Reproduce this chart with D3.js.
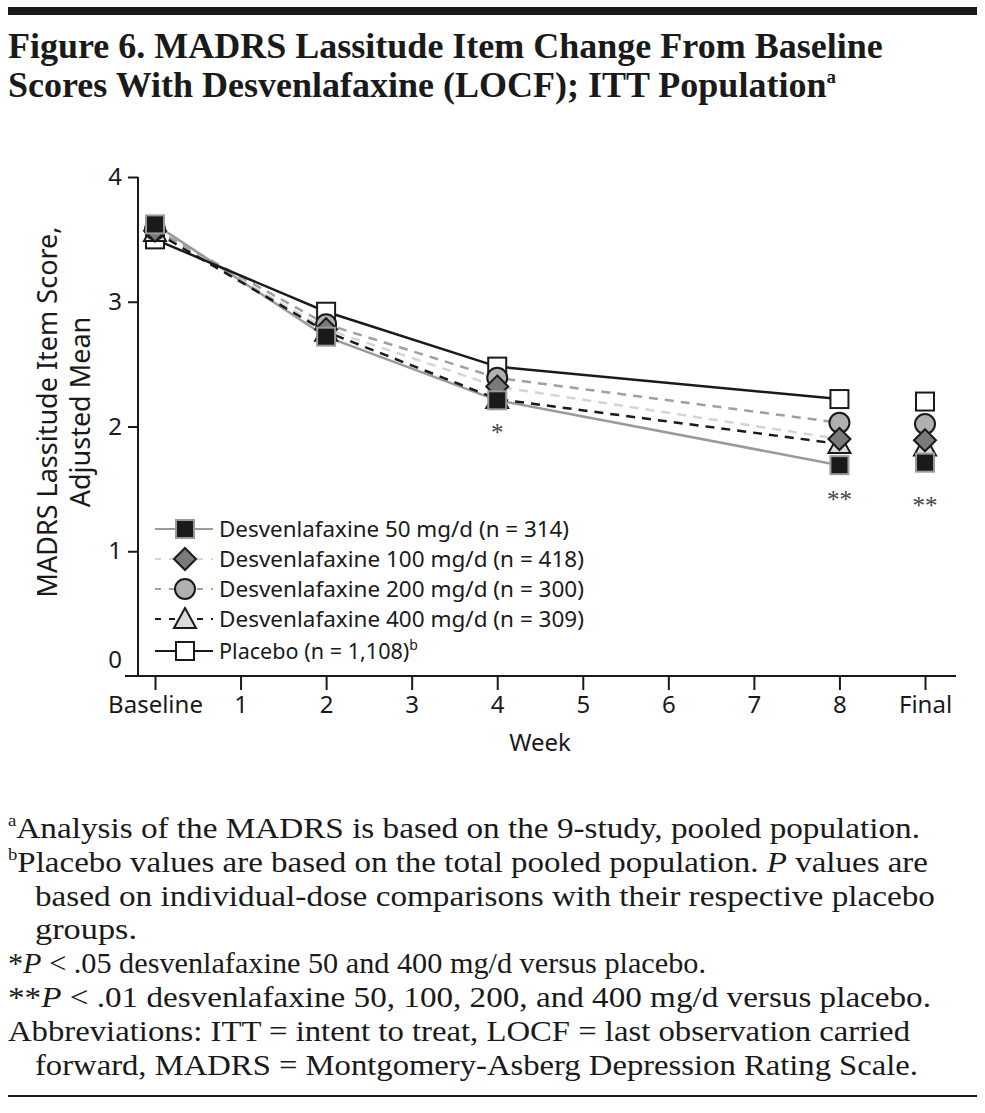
<!DOCTYPE html>
<html>
<head>
<meta charset="utf-8">
<script src="https://cdn.jsdelivr.net/npm/d3@7"></script>
<style>
body { margin: 0; background: #fff; }
svg { display: block; }
.sans { font-family: "Noto Sans", "Open Sans", sans-serif; }
.serif { font-family: "Liberation Serif", "DejaVu Serif", serif; }
</style>
</head>
<body>
<div id="chart"></div>
<script>
// x categories
var weeks = ["Baseline", "1", "2", "3", "4", "5", "6", "7", "8", "Final"];
var pointWeeks = ["Baseline", "2", "4", "8", "Final"];
var lineWeeks = ["Baseline", "2", "4", "8"];
var yTicks = [0, 1, 2, 3, 4];

// adjusted means
var d50 = [3.62, 2.72, 2.21, 1.69, 1.71];
var d100 = [3.57, 2.78, 2.32, 1.90, 1.89];
var d200 = [3.58, 2.82, 2.39, 2.03, 2.02];
var d400 = [3.56, 2.76, 2.22, 1.86, 1.84];
var placebo = [3.50, 2.92, 2.48, 2.22, 2.20];

var seriesNames = [
  "Desvenlafaxine 50 mg/d (n = 314)",
  "Desvenlafaxine 100 mg/d (n = 418)",
  "Desvenlafaxine 200 mg/d (n = 300)",
  "Desvenlafaxine 400 mg/d (n = 309)",
  "Placebo (n = 1,108)"
];

// significance marks
var sigWeeks = ["4", "8", "Final"];
var sigLabels = ["*", "**", "**"];
var sigValues = [1.88, 1.35, 1.30];

var W = 985, H = 1113;
var svg = d3.select("#chart").append("svg")
  .attr("width", W).attr("height", H);

// top bar + title
svg.append("rect").attr("x", 8).attr("y", 7).attr("width", 969).attr("height", 8).attr("fill", "#1a1a1a");
var title = svg.append("text").attr("class", "serif")
  .attr("font-size", 36).attr("font-weight", "bold").attr("fill", "#1a1a1a");
title.append("tspan").attr("x", 8).attr("y", 58).text("Figure 6. MADRS Lassitude Item Change From Baseline");
title.append("tspan").attr("x", 8).attr("y", 97).text("Scores With Desvenlafaxine (LOCF); ITT Population");
title.append("tspan").attr("font-size", 19).attr("dy", -14).text("a");

var x = d3.scalePoint().domain(weeks).range([155, 925]);
var y = d3.scaleLinear().domain([0, 4]).range([676, 177]);

// axes
var yAxis = svg.append("g").attr("class", "sans")
  .attr("transform", "translate(138,0)")
  .call(d3.axisLeft(y).tickValues(yTicks).tickSize(10).tickPadding(6).tickFormat(d3.format("d")));
yAxis.select(".domain").remove();
yAxis.selectAll("text").attr("font-size", 24).attr("fill", "#1a1a1a").attr("font-family", null);
yAxis.selectAll("line").attr("stroke", "#1a1a1a").attr("stroke-width", 2);
yAxis.selectAll(".tick").filter(function(d) { return d === 0; })
  .each(function() {
    d3.select(this).select("line").remove();
    d3.select(this).select("text").attr("y", -16);
  });
svg.append("line").attr("x1", 138).attr("x2", 138).attr("y1", y(4)).attr("y2", y(0))
  .attr("stroke", "#1a1a1a").attr("stroke-width", 2);

var xAxis = svg.append("g").attr("class", "sans")
  .attr("transform", "translate(0," + y(0) + ")")
  .call(d3.axisBottom(x).tickSize(14).tickPadding(6));
xAxis.select(".domain").remove();
xAxis.selectAll("text").attr("font-size", 24).attr("fill", "#1a1a1a").attr("font-family", null);
xAxis.selectAll("line").attr("stroke", "#1a1a1a").attr("stroke-width", 2);
svg.append("line").attr("x1", 125).attr("x2", 956).attr("y1", y(0)).attr("y2", y(0))
  .attr("stroke", "#1a1a1a").attr("stroke-width", 2);

svg.append("text").attr("class", "sans").attr("x", 540).attr("y", 751)
  .attr("text-anchor", "middle").attr("font-size", 24).attr("fill", "#1a1a1a").text("Week");

var yl = svg.append("text").attr("class", "sans").attr("font-size", 27).attr("fill", "#1a1a1a")
  .attr("text-anchor", "middle").attr("transform", "translate(0,412) rotate(-90)");
yl.append("tspan").attr("x", 0).attr("y", 57).text("MADRS Lassitude Item Score,");
yl.append("tspan").attr("x", 0).attr("y", 90).text("Adjusted Mean");

// series styling
var series = [
  { name: seriesNames[0], values: d50, line: "#9a9a9a", dash: null, shape: "square", fill: "#1a1a1a", edge: "#9a9a9a" },
  { name: seriesNames[1], values: d100, line: "#d4d4d4", dash: "9,7", shape: "diamond", fill: "#7a7a7a", edge: "#1a1a1a" },
  { name: seriesNames[2], values: d200, line: "#a0a0a0", dash: "9,7", shape: "circle", fill: "#b0b0b0", edge: "#1a1a1a" },
  { name: seriesNames[3], values: d400, line: "#1a1a1a", dash: "9,7", shape: "triangle", fill: "#dcdcdc", edge: "#1a1a1a" },
  { name: seriesNames[4], values: placebo, line: "#1a1a1a", dash: null, shape: "square", fill: "#ffffff", edge: "#1a1a1a" }
];
var legendLen = [350, 365, 365, 365, 0];
var legendRows = [529, 559, 589, 619, 651];

function marker(g, s, cx, cy) {
  if (s.shape === "square") {
    g.append("rect").attr("x", cx - 9).attr("y", cy - 9).attr("width", 18).attr("height", 18)
      .attr("fill", s.fill).attr("stroke", s.edge).attr("stroke-width", 2);
  } else if (s.shape === "circle") {
    g.append("circle").attr("cx", cx).attr("cy", cy).attr("r", 10)
      .attr("fill", s.fill).attr("stroke", s.edge).attr("stroke-width", 2);
  } else if (s.shape === "diamond") {
    g.append("path").attr("d", "M" + cx + "," + (cy - 11) + "L" + (cx + 11) + "," + cy + "L" + cx + "," + (cy + 11) + "L" + (cx - 11) + "," + cy + "Z")
      .attr("fill", s.fill).attr("stroke", s.edge).attr("stroke-width", 2);
  } else {
    g.append("path").attr("d", "M" + cx + "," + (cy - 11) + "L" + (cx + 11) + "," + (cy + 9) + "L" + (cx - 11) + "," + (cy + 9) + "Z")
      .attr("fill", s.fill).attr("stroke", s.edge).attr("stroke-width", 2);
  }
}

var line = d3.line().x(function(d) { return x(d.w); }).y(function(d) { return y(d.v); });
var lineOrder = [1, 2, 0, 3, 4];
lineOrder.forEach(function(i) {
  var s = series[i];
  var pts = lineWeeks.map(function(w) { return { w: w, v: s.values[pointWeeks.indexOf(w)] }; });
  svg.append("path").attr("d", line(pts)).attr("fill", "none")
    .attr("stroke", s.line).attr("stroke-width", 2.5)
    .attr("stroke-dasharray", s.dash);
});

var markerOrder = [4, 3, 2, 1, 0];
var mg = svg.append("g");
markerOrder.forEach(function(i) {
  var s = series[i];
  pointWeeks.forEach(function(w, j) {
    marker(mg, s, x(w), y(s.values[j]));
  });
});

// significance
svg.selectAll(".sig").data(sigWeeks).enter().append("text")
  .attr("class", "serif").attr("text-anchor", "middle").attr("font-size", 25).attr("fill", "#444")
  .attr("x", function(d) { return x(d); })
  .attr("y", function(d, i) { return y(sigValues[i]); })
  .text(function(d, i) { return sigLabels[i]; });

// legend
var lg = svg.append("g");
series.forEach(function(s, i) {
  var ly = legendRows[i];
  lg.append("line").attr("x1", 155).attr("x2", 213).attr("y1", ly).attr("y2", ly)
    .attr("stroke", s.line).attr("stroke-width", 2).attr("stroke-dasharray", s.dash ? "6,8" : null);
  marker(lg, s, 185, ly);
  var t = lg.append("text").attr("class", "sans").attr("x", 219).attr("y", ly + 8)
    .attr("font-size", 21.6).attr("fill", "#1a1a1a").text(s.name);
  if (legendLen[i]) t.attr("textLength", legendLen[i]).attr("lengthAdjust", "spacingAndGlyphs");
  if (i === 4) t.append("tspan").attr("font-size", 14).attr("dy", -9).text("b");
});

// footnotes
var fn = svg.append("g").attr("class", "serif").attr("font-size", 30).attr("fill", "#1a1a1a");
function fline(xp, yp, len) {
  var t = fn.append("text").attr("x", xp).attr("y", yp);
  if (len) t.attr("textLength", len).attr("lengthAdjust", "spacingAndGlyphs");
  return t;
}
var t1 = fline(8, 838, 912);
t1.append("tspan").attr("font-size", 17).attr("dy", -12).text("a");
t1.append("tspan").attr("dy", 12).text("Analysis of the MADRS is based on the 9-study, pooled population.");
var t2 = fline(8, 872, 920);
t2.append("tspan").attr("font-size", 17).attr("dy", -12).text("b");
t2.append("tspan").attr("dy", 12).text("Placebo values are based on the total pooled population. ");
t2.append("tspan").attr("font-style", "italic").text("P");
t2.append("tspan").text(" values are");
fline(35, 906, 900).text("based on individual-dose comparisons with their respective placebo");
fline(35, 939, 102).text("groups.");
var t5 = fline(8, 973, 698);
t5.append("tspan").text("*");
t5.append("tspan").attr("font-style", "italic").text("P");
t5.append("tspan").text(" < .05 desvenlafaxine 50 and 400 mg/d versus placebo.");
var t6 = fline(8, 1007, 923);
t6.append("tspan").text("**");
t6.append("tspan").attr("font-style", "italic").text("P");
t6.append("tspan").text(" < .01 desvenlafaxine 50, 100, 200, and 400 mg/d versus placebo.");
fline(8, 1041, 902).text("Abbreviations: ITT = intent to treat, LOCF = last observation carried");
fline(35, 1075, 883).text("forward, MADRS = Montgomery-Asberg Depression Rating Scale.");

svg.append("rect").attr("x", 8).attr("y", 1095).attr("width", 969).attr("height", 2).attr("fill", "#1a1a1a");
</script>
</body>
</html>
